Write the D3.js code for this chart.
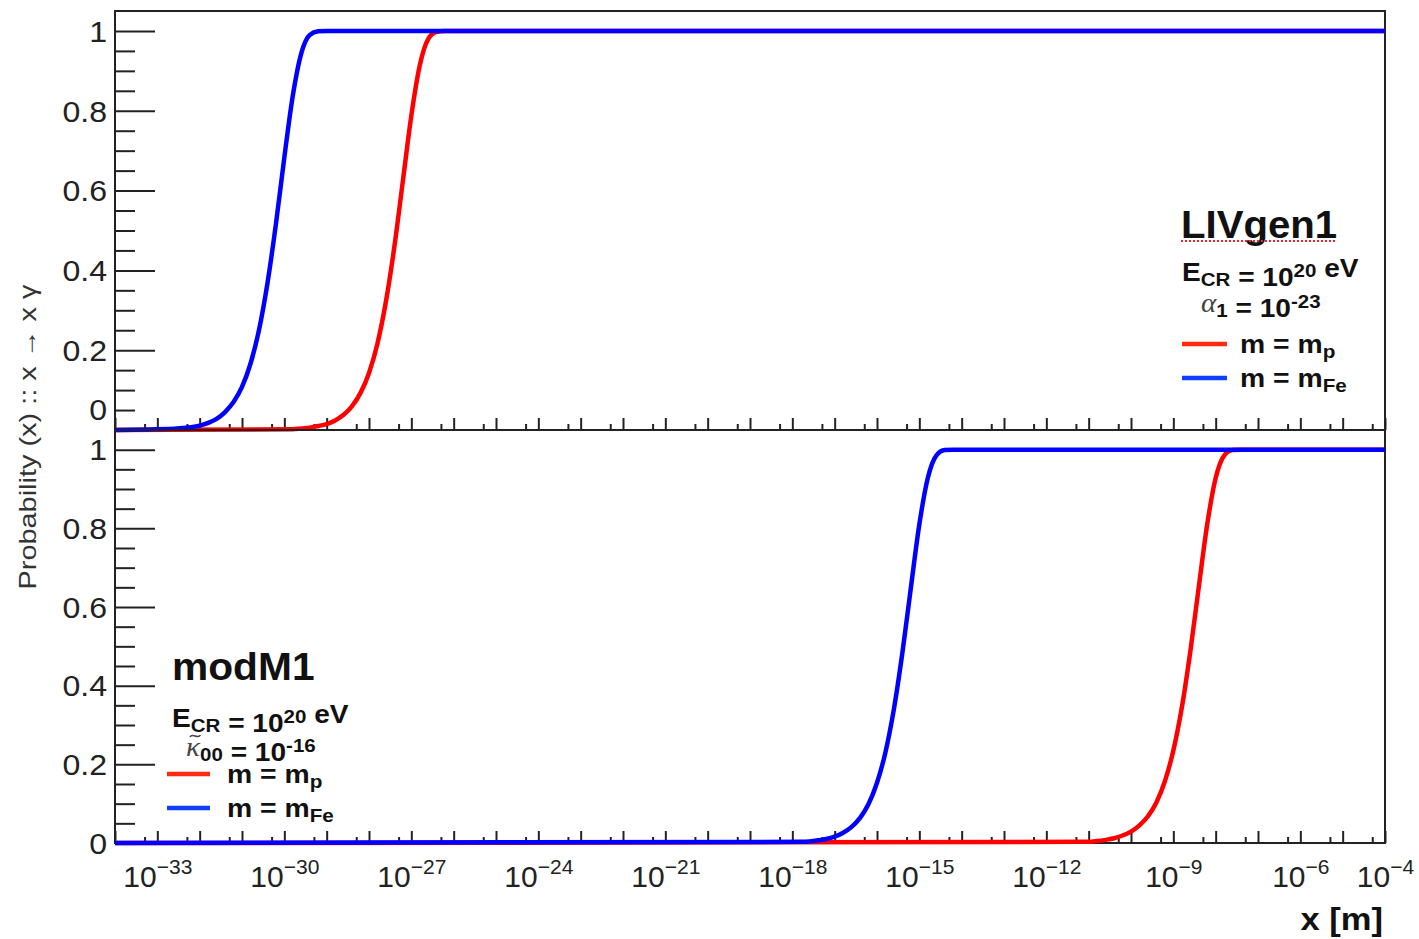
<!DOCTYPE html>
<html>
<head>
<meta charset="utf-8">
<script src="https://cdn.jsdelivr.net/npm/d3@7"></script>
<style>
  html, body { margin: 0; padding: 0; background: #fff; }
  svg { display: block; }
  text { font-family: "Liberation Sans", Arial, Helvetica, sans-serif; }
</style>
</head>
<body>
<svg id="chart" width="1419" height="939"></svg>
<script>
// ---- data ----------------------------------------------------------------
// x range of both pads, as powers of ten (metres)
const xDomainExp = [-34, -4];
// decades carrying a label on the shared x axis
const xLabelExps = [-33, -30, -27, -24, -21, -18, -15, -12, -9, -6, -4];
// y axis
const yDomain = [0, 1.05];
const yMajorTicks = [0, 0.2, 0.4, 0.6, 0.8, 1];
const yTickLabels = ["0", "0.2", "0.4", "0.6", "0.8", "1"];

// Upper pad (LIVgen1): log10(x [m]) and conversion probability
const livProtonLogX = [-34, -29.8, -29.6, -29.4, -29.2, -29.0, -28.8, -28.6, -28.4, -28.2, -28.0, -27.8, -27.6, -27.4, -27.2, -27.0, -26.8, -26.6, -26.4, -26.2, -4];
const livProtonProb = [0, 0.002, 0.004, 0.006, 0.010, 0.015, 0.024, 0.038, 0.060, 0.093, 0.143, 0.217, 0.322, 0.460, 0.624, 0.788, 0.914, 0.980, 0.998, 1, 1];
const livIronLogX   = [-34, -32.6, -32.4, -32.2, -32.0, -31.8, -31.6, -31.4, -31.2, -31.0, -30.8, -30.6, -30.4, -30.2, -30.0, -29.8, -29.6, -29.4, -29.2, -29.0, -4];
const livIronProb   = [0, 0.003, 0.005, 0.007, 0.011, 0.018, 0.028, 0.045, 0.070, 0.108, 0.166, 0.250, 0.367, 0.515, 0.683, 0.838, 0.944, 0.990, 0.999, 1, 1];

// Lower pad (modM1)
const modProtonLogX = [-34, -11.0, -10.8, -10.6, -10.4, -10.2, -10.0, -9.8, -9.6, -9.4, -9.2, -9.0, -8.8, -8.6, -8.4, -8.2, -8.0, -7.8, -7.6, -7.4, -4];
const modProtonProb = [0, 0.003, 0.005, 0.008, 0.012, 0.019, 0.029, 0.045, 0.068, 0.103, 0.157, 0.235, 0.344, 0.486, 0.650, 0.810, 0.928, 0.985, 0.999, 1, 1];
const modIronLogX   = [-34, -17.8, -17.6, -17.4, -17.2, -17.0, -16.8, -16.6, -16.4, -16.2, -16.0, -15.8, -15.6, -15.4, -15.2, -15.0, -14.8, -14.6, -14.4, -14.2, -4];
const modIronProb   = [0, 0.003, 0.004, 0.007, 0.010, 0.016, 0.026, 0.041, 0.064, 0.099, 0.153, 0.231, 0.341, 0.484, 0.649, 0.810, 0.928, 0.985, 0.999, 1, 1];

// ---- layout --------------------------------------------------------------
const W = 1419, H = 939;
const left = 115, right = 1385;
const pads = [
  { top: 11,  bottom: 430, showXLabels: false,
    series: [ { logx: livProtonLogX, prob: livProtonProb, color: "#ff0000" },
              { logx: livIronLogX,   prob: livIronProb,   color: "#0000ff" } ] },
  { top: 430, bottom: 843, showXLabels: true,
    series: [ { logx: modProtonLogX, prob: modProtonProb, color: "#ff0000" },
              { logx: modIronLogX,   prob: modIronProb,   color: "#0000ff" } ] }
];

const svg = d3.select("#chart");
svg.append("rect").attr("width", W).attr("height", H).attr("fill", "#fff");

const x = d3.scaleLog()
  .domain([Math.pow(10, xDomainExp[0]), Math.pow(10, xDomainExp[1])])
  .range([left, right]);

// decade ticks and 5×10^k ticks
const xMajor = d3.range(xDomainExp[0], xDomainExp[1] + 1).map(e => Math.pow(10, e));
const xMinor = d3.range(xDomainExp[0], xDomainExp[1]).map(e => 5 * Math.pow(10, e));
const yMinor = d3.range(1, 22).map(i => i * 0.05)
  .filter(v => v <= 1.0001 && Math.abs(v / 0.2 - Math.round(v / 0.2)) > 1e-6);

const frameColor = "#222";
const supMinus = "\u2212";

pads.forEach((pad, pi) => {
  const y = d3.scaleLinear().domain(yDomain).range([pad.bottom, pad.top]);
  const g = svg.append("g");

  // frame
  g.append("rect")
    .attr("x", left).attr("y", pad.top)
    .attr("width", right - left).attr("height", pad.bottom - pad.top)
    .attr("fill", "none").attr("stroke", frameColor).attr("stroke-width", 2);

  // y axis: major and minor ticks
  const ya = g.append("g").attr("transform", `translate(${left},0)`)
    .call(d3.axisRight(y).tickValues(yMajorTicks).tickSize(40).tickFormat(""));
  const ym = g.append("g").attr("transform", `translate(${left},0)`)
    .call(d3.axisRight(y).tickValues(yMinor).tickSize(20).tickFormat(""));
  [ya, ym].forEach(a => {
    a.select(".domain").remove();
    a.selectAll("line").attr("stroke", frameColor).attr("stroke-width", 2);
  });

  // tick labels; the 0 of the upper pad sits a little higher so it clears the lower pad's 1
  g.append("g").selectAll("g")
    .data(yMajorTicks)
    .join("g")
    .attr("transform", d => `translate(107,${y(d) + ((pi === 0 && d === 0) ? -21 : 0)}) scale(1.07,1)`)
    .append("text")
    .attr("dy", "0.36em")
    .attr("text-anchor", "end")
    .attr("font-size", 30)
    .attr("fill", "#222")
    .text((d, i) => yTickLabels[i]);

  // x axis ticks along the bottom of each pad
  const xa = g.append("g").attr("transform", `translate(0,${pad.bottom})`)
    .call(d3.axisTop(x).tickValues(xMajor).tickSize(12).tickFormat(""));
  const xm = g.append("g").attr("transform", `translate(0,${pad.bottom})`)
    .call(d3.axisTop(x).tickValues(xMinor).tickSize(6).tickFormat(""));
  [xa, xm].forEach(a => {
    a.select(".domain").remove();
    a.selectAll("line").attr("stroke", frameColor).attr("stroke-width", 2);
  });

  if (pad.showXLabels) {
    const xl = g.append("g").attr("transform", `translate(0,${pad.bottom})`)
      .call(d3.axisBottom(x).tickValues(xLabelExps.map(e => Math.pow(10, e))).tickSize(0).tickPadding(0).tickFormat(""));
    xl.select(".domain").remove();
    xl.selectAll(".tick text").remove();
    xl.selectAll(".tick").each(function (d) {
      const e = Math.round(Math.log10(d));
      const t = d3.select(this).append("text")
        .attr("x", 0).attr("y", 44)
        .attr("text-anchor", "middle")
        .attr("fill", "#222")
        .attr("font-size", 30);
      t.append("tspan").text("10");
      t.append("tspan").attr("dy", -13).attr("font-size", 21)
        .text((e < 0 ? supMinus : "") + Math.abs(e));
    });
  }

  // curves (iron drawn over proton)
  const line = d3.line()
    .x(d => x(Math.pow(10, d[0])))
    .y(d => y(d[1]))
    .curve(d3.curveMonotoneX);
  pad.series.forEach(s => {
    const pts = s.logx.map((lx, i) => [lx, s.prob[i]]);
    g.append("path")
      .attr("d", line(pts))
      .attr("fill", "none")
      .attr("stroke", s.color)
      .attr("stroke-width", 4.5)
      .attr("stroke-linejoin", "round");
  });
});

// ---- annotations ---------------------------------------------------------
// text placed at (x, y) and widened horizontally by sx
function wideText(parent, xx, yy, sx, size) {
  return parent.append("g")
    .attr("transform", `translate(${xx},${yy}) scale(${sx},1)`)
    .append("text")
    .attr("font-size", size)
    .attr("font-weight", "bold")
    .attr("fill", "#111");
}
function addSub(t, txt, size) {
  t.append("tspan").attr("dy", 5).attr("font-size", size).text(txt);
  t.append("tspan").attr("dy", -5).text("");
}
function addSup(t, txt, size) {
  t.append("tspan").attr("dy", -9).attr("font-size", size).text(txt);
  t.append("tspan").attr("dy", 9).text("");
}

function legendBlock(o) {
  const g = svg.append("g");
  // title
  wideText(g, o.titleX, o.titleY, o.titleScale, 39).text(o.title);
  if (o.underline) {
    g.append("line")
      .attr("x1", o.titleX).attr("x2", o.titleX + 156)
      .attr("y1", o.titleY + 3).attr("y2", o.titleY + 3)
      .attr("stroke", "#e8262a").attr("stroke-width", 2)
      .attr("stroke-dasharray", "2,2");
  }
  // energy
  let t = wideText(g, o.eX, o.eY, 1.08, 26);
  t.append("tspan").text("E");
  addSub(t, "CR", 19);
  t.append("tspan").text(" = 10");
  addSup(t, "20", 19);
  t.append("tspan").text(" eV");
  // coupling parameter
  t = wideText(g, o.pX, o.pY, 1.08, 26);
  t.append("tspan").attr("font-weight", "normal").attr("font-style", "italic")
    .attr("font-family", "'Liberation Serif', 'DejaVu Serif', serif")
    .attr("font-size", 27).attr("fill", "#444").text(o.param);
  addSub(t, o.paramSub, 19);
  t.append("tspan").text(" = 10");
  addSup(t, o.paramExp, 19);
  if (o.tilde) {
    const n = t.node();
    const x0 = n.getStartPositionOfChar(0).x, x1 = n.getEndPositionOfChar(0).x;
    const cx = (x0 + x1) / 2 + 2, w = (x1 - x0) * 0.75;
    d3.select(n.parentNode).append("path")
      .attr("d", `M${cx - w / 2},-19 C${cx - w / 4},-24 ${cx + w / 4},-16 ${cx + w / 2},-21`)
      .attr("fill", "none").attr("stroke", "#444").attr("stroke-width", 1.4);
  }
  // entries
  o.entries.forEach((en, i) => {
    const yy = o.lineY + i * 34;
    g.append("line").attr("x1", o.lineX1).attr("x2", o.lineX2)
      .attr("y1", yy).attr("y2", yy)
      .attr("stroke", en.color).attr("stroke-width", 4.5);
    const tt = wideText(g, o.textX, yy + 9, 1.09, 26);
    tt.append("tspan").text("m = m");
    addSub(tt, en.sub, 19);
  });
}

legendBlock({
  title: "LIVgen1", titleX: 1181, titleY: 238, titleScale: 1.03, underline: true,
  eX: 1182, eY: 281,
  param: "\u03b1", paramSub: "1", paramExp: "-23", pX: 1201, pY: 312, tilde: false,
  lineX1: 1182, lineX2: 1227, lineY: 344, textX: 1240,
  entries: [ { color: "#ff2a10", sub: "p" }, { color: "#1040ff", sub: "Fe" } ]
});

legendBlock({
  title: "modM1", titleX: 172, titleY: 680, titleScale: 1.045, underline: false,
  eX: 172, eY: 727,
  param: "\u03ba", paramSub: "00", paramExp: "-16", pX: 186, pY: 756, tilde: true,
  lineX1: 167, lineX2: 210, lineY: 774, textX: 227,
  entries: [ { color: "#ff2a10", sub: "p" }, { color: "#1040ff", sub: "Fe" } ]
});

// axis titles
svg.append("text")
  .attr("transform", "translate(36,437) rotate(-90)")
  .attr("text-anchor", "middle")
  .attr("font-size", 24)
  .attr("fill", "#333")
  .attr("textLength", 305)
  .attr("lengthAdjust", "spacingAndGlyphs")
  .text("Probability (x) :: x \u2192 x \u03b3");

svg.append("g")
  .attr("transform", "translate(1383,930) scale(1.08,1)")
  .append("text")
  .attr("text-anchor", "end")
  .attr("font-size", 32)
  .attr("font-weight", "bold")
  .attr("fill", "#111")
  .text("x [m]");
</script>
</body>
</html>
